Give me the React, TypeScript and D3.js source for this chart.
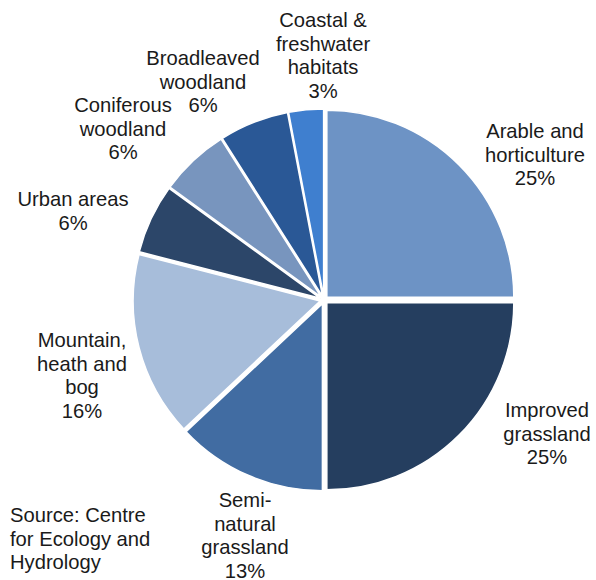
import React from "react";
import * as d3 from "d3";

const categories = [
  "Arable and horticulture",
  "Improved grassland",
  "Semi-natural grassland",
  "Mountain, heath and bog",
  "Urban areas",
  "Coniferous woodland",
  "Broadleaved woodland",
  "Coastal & freshwater habitats",
];
const values = [25, 25, 13, 16, 6, 6, 6, 3];
const colors = ["#6d93c5", "#253e5f", "#416ca2", "#a7bdda", "#2c4669", "#7895be", "#2a5896", "#3f7fcf"];
const labelLines = [
  ["Arable and", "horticulture", "25%"],
  ["Improved", "grassland", "25%"],
  ["Semi-", "natural", "grassland", "13%"],
  ["Mountain,", "heath and", "bog", "16%"],
  ["Urban areas", "6%"],
  ["Coniferous", "woodland", "6%"],
  ["Broadleaved", "woodland", "6%"],
  ["Coastal &", "freshwater", "habitats", "3%"],
];
const sourceLines = ["Source: Centre", "for Ecology and", "Hydrology"];

// label anchor (center x, first baseline y)
const labelAnchors: [number, number][] = [
  [535, 138],
  [547, 417],
  [245, 507],
  [82, 347],
  [73, 206],
  [123, 112],
  [203, 65],
  [323, 27],
];

export default function App() {
  const width = 596, height = 580;
  const cx = 324, cy = 300, r = 187, explode = 4;
  const pie = d3.pie<number>().sort(null).value((d) => d);
  const arcs = pie(values);
  const arc = d3.arc<d3.PieArcDatum<number>>().innerRadius(0).outerRadius(r);
  const lh = 23.5;
  return (
    <svg width={width} height={height} style={{ position: "absolute", left: 0, top: 0 }}
      fontFamily="'Liberation Sans', Arial, sans-serif" fontSize={20.2}>
      <rect width={width} height={height} fill="#fff" />
      <g transform={`translate(${cx},${cy})`}>
        {arcs.map((a, i) => {
          const mid = (a.startAngle + a.endAngle) / 2;
          const dx = Math.sin(mid) * explode, dy = -Math.cos(mid) * explode;
          return (
            <path key={i} d={arc(a) || ""} fill={colors[i]} stroke="#fff" strokeWidth={1.5}
              transform={`translate(${dx},${dy})`} />
          );
        })}
      </g>
      {labelLines.map((lines, i) => (
        <text key={i} textAnchor="middle" fill="#1a1a1a">
          {lines.map((l, j) => (
            <tspan key={j} x={labelAnchors[i][0]} y={labelAnchors[i][1] + j * lh}>{l}</tspan>
          ))}
        </text>
      ))}
      <text fill="#1a1a1a">
        {sourceLines.map((l, j) => (
          <tspan key={j} x={10} y={522 + j * lh}>{l}</tspan>
        ))}
      </text>
    </svg>
  );
}
